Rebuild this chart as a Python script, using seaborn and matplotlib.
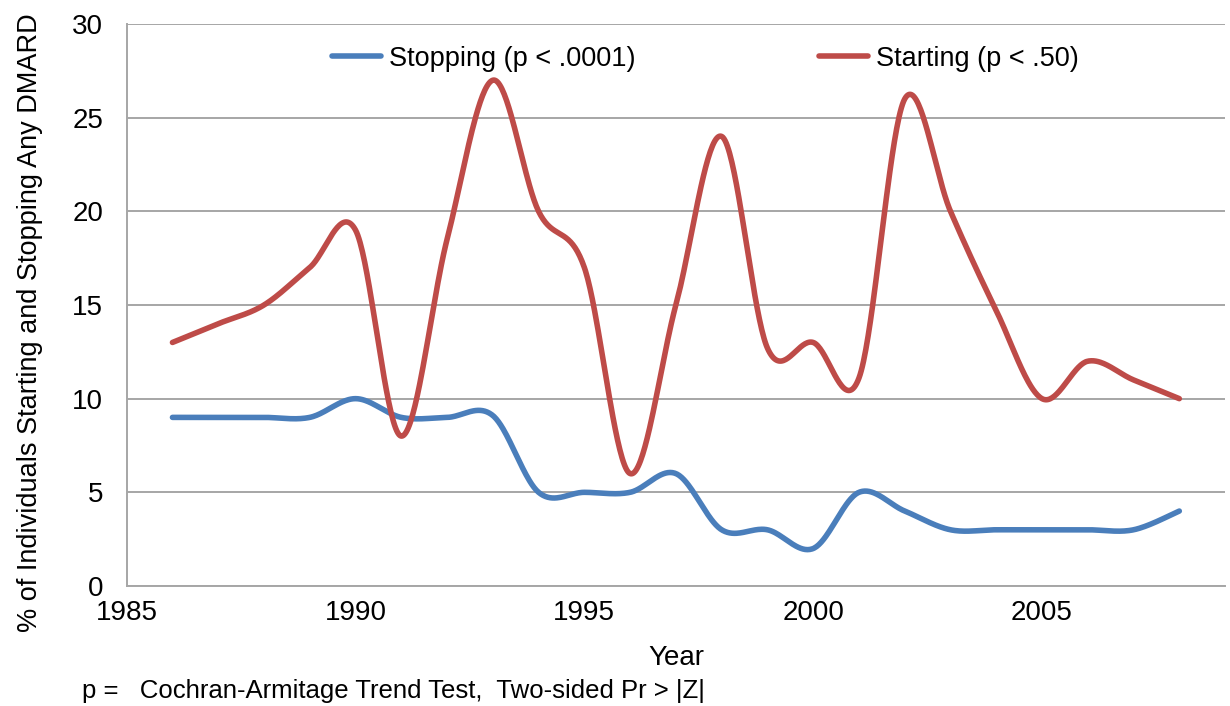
import numpy as np
import pandas as pd
import matplotlib
matplotlib.use("Agg")
import matplotlib.pyplot as plt
import seaborn as sns

# values (percent per year)
years = list(range(1986, 2009))
stopping = [9.0, 9.0, 9.0, 9.0, 10.0, 9.0, 9.0, 9.1, 5.0, 5.0, 5.0, 6.0,
            3.0, 3.0, 2.0, 5.0, 4.0, 3.0, 3.0, 3.0, 3.0, 3.0, 4.0]
starting = [13.0, 14.0, 15.0, 17.0, 19.0, 8.0, 18.5, 27.0, 20.0, 17.0, 6.0, 15.0,
            24.0, 12.7, 13.0, 11.1, 26.0, 20.0, 14.7, 10.0, 12.0, 11.0, 10.0]
series_names = ["Stopping (p < .0001)", "Starting (p < .50)"]
colors = ["#4A7EBB", "#BE4B48"]


def smooth(x, y, n=40):
    # Excel-like smoothed line (Catmull-Rom through every point)
    x = np.asarray(x, float)
    y = np.asarray(y, float)
    px = np.concatenate([[x[0]], x, [x[-1]]])
    py = np.concatenate([[y[0]], y, [y[-1]]])
    xs, ys = [], []
    for i in range(1, len(px) - 2):
        t = np.linspace(0, 1, n, endpoint=False)
        h00 = 2 * t**3 - 3 * t**2 + 1
        h10 = t**3 - 2 * t**2 + t
        h01 = -2 * t**3 + 3 * t**2
        h11 = t**3 - t**2
        for arr, out in ((px, xs), (py, ys)):
            m1 = (arr[i + 1] - arr[i - 1]) / 2
            m2 = (arr[i + 2] - arr[i]) / 2
            out.extend(h00 * arr[i] + h10 * m1 + h01 * arr[i + 1] + h11 * m2)
    xs.append(x[-1])
    ys.append(y[-1])
    return np.array(xs), np.array(ys)


frames = []
for name, vals in zip(series_names, [stopping, starting]):
    sx, sy = smooth(years, vals)
    frames.append(pd.DataFrame({"Year": sx, "pct": sy, "series": name}))
df = pd.concat(frames, ignore_index=True)

sns.set_style("white")
plt.rcParams["font.family"] = ["Liberation Sans", "DejaVu Sans"]
plt.rcParams["text.color"] = "black"
plt.rcParams["axes.labelcolor"] = "black"
plt.rcParams["xtick.labelcolor"] = "black"
plt.rcParams["ytick.labelcolor"] = "black"

fig = plt.figure(figsize=(12.3, 7.06), dpi=100)
ax = fig.add_axes([0.103, 0.170, 0.893, 0.796])

sns.lineplot(data=df, x="Year", y="pct", hue="series", hue_order=series_names,
             palette=colors, sort=False, estimator=None, linewidth=4.0,
             solid_capstyle="round", ax=ax)

grid_c = "#A6A6A6"
ax.set_xlim(1985, 2009)
ax.set_ylim(0, 30)
ax.set_xticks(range(1985, 2006, 5))
ax.set_yticks(range(0, 31, 5))
ax.yaxis.grid(True, color=grid_c, linewidth=1.4)
ax.set_axisbelow(True)
for s in ["top", "right"]:
    ax.spines[s].set_visible(False)
for s in ["left", "bottom"]:
    ax.spines[s].set_color(grid_c)
    ax.spines[s].set_linewidth(1.4)
ax.tick_params(axis="x", direction="out", length=7, width=1.2, color=grid_c,
               labelsize=20, pad=3)
ax.tick_params(axis="y", direction="out", length=5, width=1.2, color=grid_c,
               labelsize=20, pad=12)
ax.set_xlabel("Year", fontsize=20)
ax.xaxis.set_label_coords(0.5, -0.105)
ax.set_ylabel("% of Individuals Starting and Stopping Any DMARD", fontsize=19.5)
ax.yaxis.set_label_coords(-0.076, 0.468)

ax.legend(loc="center", bbox_to_anchor=(0.527, 0.938), ncol=2, frameon=False,
          fontsize=19.5, handlelength=1.8, handletextpad=0.3, columnspacing=6.8)

fig.text(0.067, 0.012, "p =   Cochran-Armitage Trend Test,  Two-sided Pr > |Z|",
         fontsize=18.5, ha="left", va="baseline")

fig.savefig("out.png", dpi=100)
